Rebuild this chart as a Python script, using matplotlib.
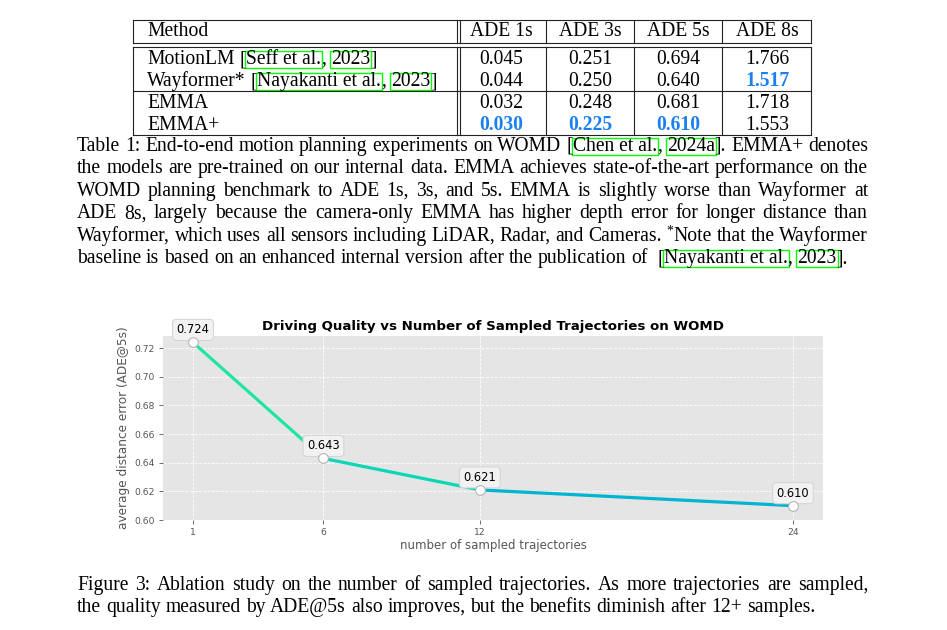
import re
import numpy as np
import matplotlib
matplotlib.use('Agg')
import matplotlib.pyplot as plt
from matplotlib.lines import Line2D
from matplotlib.patches import Rectangle

# ---- data ----
methods = ['MotionLM [{Seff et al.}, {2023}]',
           'Wayformer* [{Nayakanti et al.}, {2023}]',
           'EMMA', 'EMMA+']
columns = ['ADE 1s', 'ADE 3s', 'ADE 5s', 'ADE 8s']
table_vals = np.array([[0.045, 0.251, 0.694, 1.766],
                       [0.044, 0.250, 0.640, 1.517],
                       [0.032, 0.248, 0.681, 1.718],
                       [0.030, 0.225, 0.610, 1.553]])

n_traj = [1, 6, 12, 24]
ade5 = [0.724, 0.643, 0.621, 0.610]

table_caption = [
    "Table 1: End-to-end motion planning experiments on WOMD [{Chen et al.}, {2024a}]. EMMA+ denotes",
    "the models are pre-trained on our internal data. EMMA achieves state-of-the-art performance on the",
    "WOMD planning benchmark to ADE 1s, 3s, and 5s. EMMA is slightly worse than Wayformer at",
    "ADE 8s, largely because the camera-only EMMA has higher depth error for longer distance than",
    "Wayformer, which uses all sensors including LiDAR, Radar, and Cameras. ^*Note that the Wayformer",
    "baseline is based on an enhanced internal version after the publication of  [{Nayakanti et al.}, {2023}].",
]
figure_caption = [
    "Figure 3: Ablation study on the number of sampled trajectories. As more trajectories are sampled,",
    "the quality measured by ADE@5s also improves, but the benefits diminish after 12+ samples.",
]

W, H = 947, 630
FS = 14.1
fig = plt.figure(figsize=(W / 100, H / 100), dpi=100)
renderer = fig.canvas.get_renderer()

SERIF = 'Liberation Serif'
TOKEN = re.compile(r'\{[^}]*\}|\^.|[^\s{^]+|\s+')


def fx(x):
    return x / W


def fy(y):
    return 1 - y / H


def hline(x0, x1, y, lw=0.8):
    fig.add_artist(Line2D([fx(x0), fx(x1)], [fy(y), fy(y)], color='#222', lw=lw))


def vline(x, y0, y1, lw=0.8):
    fig.add_artist(Line2D([fx(x), fx(x)], [fy(y0), fy(y1)], color='#222', lw=lw))


def text_line(line, x0, y, size=FS, width=None, **kw):
    # draws a line word by word, boxes {..} parts like pdf links, justifies if width given
    sp = 0.25 * size * 100 / 72
    items = []
    for tk in TOKEN.findall(line):
        if tk.isspace():
            items.append([None, sp * len(tk), False])
            continue
        boxed = tk.startswith('{')
        sup = tk.startswith('^')
        s = tk[1:-1] if boxed else (tk[1:] if sup else tk)
        t = fig.text(0, fy(y - (6 if sup else 0)), s, family=SERIF,
                     fontsize=size * (0.7 if sup else 1), va='baseline', **kw)
        items.append([t, t.get_window_extent(renderer).width, boxed])
    n_sp = sum(1 for it in items if it[0] is None)
    if width and n_sp:
        extra = (width - sum(it[1] for it in items)) / n_sp
        for it in items:
            if it[0] is None:
                it[1] += extra
    x = x0
    for t, w, boxed in items:
        if t is not None:
            t.set_x(fx(x))
            if boxed:
                bb = t.get_window_extent(renderer)
                fig.add_artist(Rectangle(((bb.x0 - 1) / W, (bb.y0 + 1) / H),
                                         (bb.width + 2) / W, (bb.height - 2) / H,
                                         transform=fig.transFigure, fill=False,
                                         ec='#00ff00', lw=1.0))
        x += w


# ---- table ----
col_x = [501, 590, 678, 767]
row_y = [64, 86, 108, 130]
hline(133, 811, 20)
hline(133, 811, 43)
hline(133, 811, 47)
hline(133, 811, 91)
hline(133, 811, 135)
vline(133, 20, 43)
vline(133, 47, 135)
vline(811, 20, 43)
vline(811, 47, 135)
for vx in [457, 460, 546, 634, 722]:
    vline(vx, 20, 43)
    vline(vx, 47, 135)

text_line('Method', 147, 36)
for cx, c in zip(col_x, columns):
    fig.text(fx(cx), fy(36), c, ha='center', va='baseline', family=SERIF, fontsize=FS)

best = table_vals.min(axis=0)
for i, m in enumerate(methods):
    text_line(m, 147, row_y[i])
    for j, cx in enumerate(col_x):
        v = table_vals[i, j]
        is_best = v == best[j]
        fig.text(fx(cx), fy(row_y[i]), f'{v:.3f}', ha='center', va='baseline',
                 family=SERIF, fontsize=FS,
                 fontweight='bold' if is_best else 'normal',
                 color='#1a7ff0' if is_best else 'black')

for i, line in enumerate(table_caption):
    last = i == len(table_caption) - 1
    text_line(line, 77, 151 + 22.4 * i, width=None if last else 791)

for i, line in enumerate(figure_caption):
    last = i == len(figure_caption) - 1
    text_line(line, 77, 590 + 22 * i, width=None if last else 791)

# ---- chart ----
ax = fig.add_axes([163 / W, 1 - 520 / H, 660 / W, 184 / H], facecolor='#e5e5e5')
seg_colors = ['#1ee6a2', '#0ad6b8', '#00b4d2']
for i in range(len(n_traj) - 1):
    ax.plot(n_traj[i:i + 2], ade5[i:i + 2], color=seg_colors[i], lw=2.3,
            solid_capstyle='butt', zorder=2)
ax.plot(n_traj, ade5, 'o', ms=7, mfc='white', mec='#b5b5b5', mew=0.8, zorder=4)
for xv, v in zip(n_traj, ade5):
    ax.annotate(f'{v:.3f}', (xv, v), xytext=(0, 9), textcoords='offset points',
                ha='center', va='center', fontsize=8.3, annotation_clip=False, zorder=3,
                bbox=dict(boxstyle='round,pad=0.35', fc='#f2f2f2', ec='#d5d5d5', lw=0.8))

ax.set_xlim(-0.15, 25.15)
ax.set_ylim(0.60, 0.7285)
ax.set_xticks(n_traj)
ax.set_yticks(np.arange(0.60, 0.7201, 0.02))
ax.yaxis.set_major_formatter('{x:.2f}')
ax.tick_params(length=3, width=0.6, color='#555', labelcolor='#555', labelsize=6.6, pad=3)
ax.grid(True, color='white', ls='--', lw=0.6)
ax.set_axisbelow(True)
for s in ax.spines.values():
    s.set_visible(False)

ax.set_title('Driving Quality vs Number of Sampled Trajectories on WOMD',
             fontsize=9.6, fontweight='bold', pad=4)
ax.set_ylabel('average distance error (ADE@5s)', fontsize=8.7, color='#555', labelpad=3)
ax.set_xlabel('number of sampled trajectories', fontsize=8.5, color='#555', labelpad=1)

fig.savefig('out.png', dpi=100)
